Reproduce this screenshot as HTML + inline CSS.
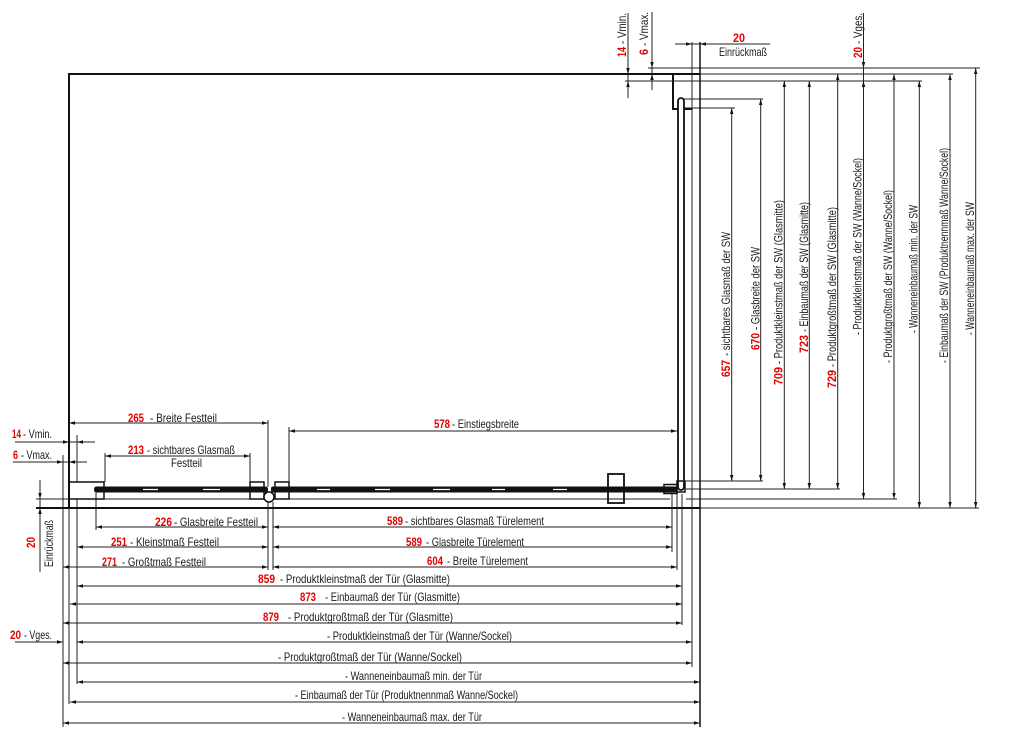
<!DOCTYPE html>
<html><head><meta charset="utf-8">
<style>
html,body{margin:0;padding:0;background:#fff;}
svg{display:block}
text{font-family:"Liberation Sans",sans-serif;}
.t{font-size:12px;fill:#1a1a1a}
.n{font-size:12px;font-weight:bold;fill:#e30000}
</style></head><body>
<svg width="1034" height="743" viewBox="0 0 1034 743" xmlns="http://www.w3.org/2000/svg">
<defs>
<marker id="a" viewBox="0 0 6 4" refX="6" refY="2" markerWidth="6" markerHeight="4" markerUnits="userSpaceOnUse" orient="auto-start-reverse"><path d="M0,0.3 L6,2 L0,3.7Z" fill="#111"/></marker>
</defs>

<!-- thin plain lines -->
<g stroke="#222" stroke-width="1" fill="none">
<path d="M648,68H980"/>
<path d="M700,74H953"/>
<path d="M625,81H922"/>
<path d="M680,99H763"/>
<path d="M682,108H735"/>
<path d="M686,481H763"/>
<path d="M686,489H840"/>
<path d="M686,499H897"/>
<path d="M700,508H979"/>
<path d="M36,499H670"/>
<path d="M692,42V667"/>
<path d="M628,13V98"/>
<path d="M652,12V90"/>
<path d="M863.5,13V81"/>
<path d="M63,455V727"/>
<path d="M77,435V482"/>
<path d="M77,499V684"/>
<path d="M69,508V704"/>
<path d="M40,480V572"/>
<path d="M268,420V487"/>
<path d="M268,502V570"/>
<path d="M273,502V570"/>
<path d="M105,453V482"/>
<path d="M250,453V482"/>
<path d="M289,427V482"/>
<path d="M96,492V530"/>
<path d="M672,494V552"/>
<path d="M677,494V570"/>
<path d="M682,494V625"/>
<path d="M675,44H770"/>
<path d="M15,442H95"/>
<path d="M13,462H87"/>
<path d="M15,642H63"/>
</g>
<path d="M700,42V727" stroke="#111" stroke-width="1.5" fill="none"/>

<!-- dimension lines with arrows both ends -->
<g stroke="#222" stroke-width="1" fill="none" marker-start="url(#a)" marker-end="url(#a)">
<path d="M69,423H268"/>
<path d="M105,456H250"/>
<path d="M289,431H677"/>
<path d="M96,527H268"/>
<path d="M77,547H268"/>
<path d="M63,567H268"/>
<path d="M273,527H672"/>
<path d="M273,547H672"/>
<path d="M273,567H677"/>
<path d="M77,586H682"/>
<path d="M70,604H682"/>
<path d="M63,623H682"/>
<path d="M77,642H692"/>
<path d="M63,663H692"/>
<path d="M77,682H700"/>
<path d="M70,702H700"/>
<path d="M63,723H700"/>
<path d="M731.7,108V481"/>
<path d="M760.7,99V481"/>
<path d="M784.3,81V489"/>
<path d="M809.3,81V489"/>
<path d="M837.7,74V489"/>
<path d="M863.5,81V499"/>
<path d="M894,74V499"/>
<path d="M919.3,81V508"/>
<path d="M950,74V508"/>
<path d="M975.7,68V508"/>
</g>

<!-- outside arrows -->
<g stroke="#222" stroke-width="1" fill="none" marker-end="url(#a)">
<path d="M628,62V74"/>
<path d="M628,93V81"/>
<path d="M652,56V68"/>
<path d="M652,86V74"/>
<path d="M863.5,56V68"/>
<path d="M683,44H692"/>
<path d="M709,44H700"/>
<path d="M57,442H69"/>
<path d="M89,442H77"/>
<path d="M51,462H63"/>
<path d="M81,462H69"/>
<path d="M40,487V499"/>
<path d="M40,520V508"/>
<path d="M50,642H63"/>
</g>

<!-- structure -->
<g stroke="#111" fill="none">
<path d="M69,508V74H700" stroke-width="2"/>
<path d="M36,508H700" stroke-width="2"/>
<path d="M673,74V109H692" stroke-width="2"/>
<rect x="69" y="482" width="35" height="17" stroke-width="1.5"/>
<rect x="250" y="482" width="14" height="17" stroke-width="1.5"/>
<rect x="275" y="482" width="14" height="17" stroke-width="1.5"/>
<rect x="608" y="474" width="16" height="29" stroke-width="1.8"/>
<rect x="678" y="98" width="6" height="392" rx="3" stroke-width="1.8" fill="#fff"/>
<rect x="677" y="481" width="8" height="11" stroke-width="1.5"/>
<rect x="664" y="484.5" width="13" height="9" stroke-width="1.5"/>
</g>
<rect x="94" y="486.5" width="174" height="6" rx="2.5" fill="#111"/>
<rect x="271" y="486.5" width="406" height="6" rx="2" fill="#111"/>
<g stroke="#fff" stroke-width="1.2">
<path d="M143,489.5H158M203,489.5H220M317,489.5H330M375,489.5H390M433,489.5H450M492,489.5H505M553,489.5H567"/>
</g>
<circle cx="269" cy="497" r="5" stroke="#111" stroke-width="1.5" fill="#fff"/>

<!-- horizontal labels -->
<text class="n" x="128" y="422" textLength="16" lengthAdjust="spacingAndGlyphs">265</text>
<text class="t" x="150" y="422" textLength="67" lengthAdjust="spacingAndGlyphs">- Breite Festteil</text>
<text class="n" x="128" y="454" textLength="16" lengthAdjust="spacingAndGlyphs">213</text>
<text class="t" x="147" y="454" textLength="88" lengthAdjust="spacingAndGlyphs">- sichtbares Glasmaß</text>
<text class="t" x="171" y="467" textLength="31" lengthAdjust="spacingAndGlyphs">Festteil</text>
<text class="n" x="434" y="428" textLength="16" lengthAdjust="spacingAndGlyphs">578</text>
<text class="t" x="452" y="428" textLength="67" lengthAdjust="spacingAndGlyphs">- Einstiegsbreite</text>
<text class="n" x="155" y="526" textLength="17" lengthAdjust="spacingAndGlyphs">226</text>
<text class="t" x="174" y="526" textLength="84" lengthAdjust="spacingAndGlyphs">- Glasbreite Festteil</text>
<text class="n" x="387" y="525" textLength="16" lengthAdjust="spacingAndGlyphs">589</text>
<text class="t" x="405" y="525" textLength="139" lengthAdjust="spacingAndGlyphs">- sichtbares Glasmaß Türelement</text>
<text class="n" x="111" y="546" textLength="16" lengthAdjust="spacingAndGlyphs">251</text>
<text class="t" x="130" y="546" textLength="89" lengthAdjust="spacingAndGlyphs">- Kleinstmaß Festteil</text>
<text class="n" x="406" y="546" textLength="16" lengthAdjust="spacingAndGlyphs">589</text>
<text class="t" x="426" y="546" textLength="98" lengthAdjust="spacingAndGlyphs">- Glasbreite Türelement</text>
<text class="n" x="102" y="566" textLength="15" lengthAdjust="spacingAndGlyphs">271</text>
<text class="t" x="122" y="566" textLength="84" lengthAdjust="spacingAndGlyphs">- Großtmaß Festteil</text>
<text class="n" x="427" y="565" textLength="16" lengthAdjust="spacingAndGlyphs">604</text>
<text class="t" x="447" y="565" textLength="81" lengthAdjust="spacingAndGlyphs">- Breite Türelement</text>
<text class="n" x="258" y="583" textLength="17" lengthAdjust="spacingAndGlyphs">859</text>
<text class="t" x="280" y="583" textLength="170" lengthAdjust="spacingAndGlyphs">- Produktkleinstmaß der Tür (Glasmitte)</text>
<text class="n" x="300" y="601" textLength="16" lengthAdjust="spacingAndGlyphs">873</text>
<text class="t" x="325" y="601" textLength="135" lengthAdjust="spacingAndGlyphs">- Einbaumaß der Tür (Glasmitte)</text>
<text class="n" x="263" y="621" textLength="16" lengthAdjust="spacingAndGlyphs">879</text>
<text class="t" x="288" y="621" textLength="165" lengthAdjust="spacingAndGlyphs">- Produktgroßtmaß der Tür (Glasmitte)</text>
<text class="t" x="327" y="640" textLength="185" lengthAdjust="spacingAndGlyphs">- Produktkleinstmaß der Tür (Wanne/Sockel)</text>
<text class="t" x="278" y="661" textLength="184" lengthAdjust="spacingAndGlyphs">- Produktgroßtmaß der Tür (Wanne/Sockel)</text>
<text class="t" x="345" y="680" textLength="137" lengthAdjust="spacingAndGlyphs">- Wanneneinbaumaß min. der Tür</text>
<text class="t" x="295" y="699" textLength="223" lengthAdjust="spacingAndGlyphs">- Einbaumaß der Tür (Produktnennmaß Wanne/Sockel)</text>
<text class="t" x="342" y="721" textLength="140" lengthAdjust="spacingAndGlyphs">- Wanneneinbaumaß max. der Tür</text>
<text class="n" x="10" y="639" textLength="11" lengthAdjust="spacingAndGlyphs">20</text>
<text class="t" x="24" y="639" textLength="28" lengthAdjust="spacingAndGlyphs">- Vges.</text>
<text class="n" x="12" y="438" textLength="9" lengthAdjust="spacingAndGlyphs">14</text>
<text class="t" x="23" y="438" textLength="29" lengthAdjust="spacingAndGlyphs">- Vmin.</text>
<text class="n" x="13" y="459" textLength="5" lengthAdjust="spacingAndGlyphs">6</text>
<text class="t" x="21" y="459" textLength="31" lengthAdjust="spacingAndGlyphs">- Vmax.</text>
<text class="n" x="733" y="42" textLength="12" lengthAdjust="spacingAndGlyphs">20</text>
<text class="t" x="719" y="56" textLength="48" lengthAdjust="spacingAndGlyphs">Einrückmaß</text>

<!-- rotated labels -->
<text class="n" transform="translate(730,377) rotate(-90)" textLength="17" lengthAdjust="spacingAndGlyphs">657</text>
<text class="t" transform="translate(730,356) rotate(-90)" textLength="124" lengthAdjust="spacingAndGlyphs">- sichtbares Glasmaß der SW</text>
<text class="n" transform="translate(759.5,350) rotate(-90)" textLength="17" lengthAdjust="spacingAndGlyphs">670</text>
<text class="t" transform="translate(759.5,330) rotate(-90)" textLength="83" lengthAdjust="spacingAndGlyphs">- Glasbreite der SW</text>
<text class="n" transform="translate(782.5,385) rotate(-90)" textLength="18" lengthAdjust="spacingAndGlyphs">709</text>
<text class="t" transform="translate(782.5,364) rotate(-90)" textLength="164" lengthAdjust="spacingAndGlyphs">- Produktkleinstmaß der SW (Glasmitte)</text>
<text class="n" transform="translate(808,353) rotate(-90)" textLength="18" lengthAdjust="spacingAndGlyphs">723</text>
<text class="t" transform="translate(808,332) rotate(-90)" textLength="130" lengthAdjust="spacingAndGlyphs">- Einbaumaß der SW (Glasmitte)</text>
<text class="n" transform="translate(836,388) rotate(-90)" textLength="18" lengthAdjust="spacingAndGlyphs">729</text>
<text class="t" transform="translate(836,367) rotate(-90)" textLength="160" lengthAdjust="spacingAndGlyphs">- Produktgroßtmaß der SW (Glasmitte)</text>
<text class="t" transform="translate(861.5,335) rotate(-90)" textLength="177" lengthAdjust="spacingAndGlyphs">- Produktkleinstmaß der SW (Wanne/Sockel)</text>
<text class="t" transform="translate(892,363) rotate(-90)" textLength="173" lengthAdjust="spacingAndGlyphs">- Produktgroßtmaß der SW (Wanne/Sockel)</text>
<text class="t" transform="translate(917.5,333) rotate(-90)" textLength="128" lengthAdjust="spacingAndGlyphs">- Wanneneinbaumaß min. der SW</text>
<text class="t" transform="translate(948,363) rotate(-90)" textLength="215" lengthAdjust="spacingAndGlyphs">- Einbaumaß der SW (Produktnennmaß Wanne/Sockel)</text>
<text class="t" transform="translate(974,335) rotate(-90)" textLength="133" lengthAdjust="spacingAndGlyphs">- Wanneneinbaumaß max. der SW</text>
<text class="n" transform="translate(626,57) rotate(-90)" textLength="10" lengthAdjust="spacingAndGlyphs">14</text>
<text class="t" transform="translate(626,44) rotate(-90)" textLength="31" lengthAdjust="spacingAndGlyphs">- Vmin.</text>
<text class="n" transform="translate(648,55) rotate(-90)" textLength="6" lengthAdjust="spacingAndGlyphs">6</text>
<text class="t" transform="translate(648,46) rotate(-90)" textLength="34" lengthAdjust="spacingAndGlyphs">- Vmax.</text>
<text class="n" transform="translate(862,58) rotate(-90)" textLength="11" lengthAdjust="spacingAndGlyphs">20</text>
<text class="t" transform="translate(862,44) rotate(-90)" textLength="31" lengthAdjust="spacingAndGlyphs">- Vges.</text>
<text class="n" transform="translate(35,548) rotate(-90)" textLength="11" lengthAdjust="spacingAndGlyphs">20</text>
<text class="t" transform="translate(53,567) rotate(-90)" textLength="47" lengthAdjust="spacingAndGlyphs">Einrückmaß</text>
</svg>
</body></html>
